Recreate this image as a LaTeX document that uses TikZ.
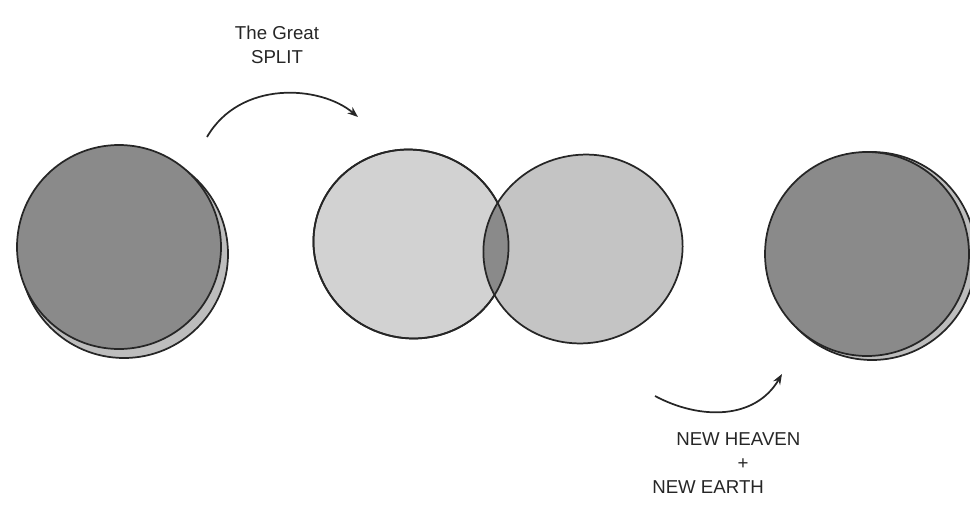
\documentclass[tikz,border=0pt]{standalone}
\usepackage{fontspec}
\setmainfont{Liberation Sans}
\usepackage{xcolor}
\usetikzlibrary{arrows.meta}
\definecolor{darkfill}{HTML}{8A8A8A}
\definecolor{backfill}{HTML}{BDBDBD}
\definecolor{leftfill}{HTML}{D2D2D2}
\definecolor{rightfill}{HTML}{C4C4C4}
\definecolor{inkline}{HTML}{262626}

\begin{document}
\begin{tikzpicture}[>={Stealth[length=8pt,width=6pt]},x=0.75pt,y=-0.75pt,
  ink/.style={draw=inkline,line width=1.3pt},
  hand/.style={font=\fontsize{14}{18}\selectfont,text=inkline,align=center,inner sep=0pt}]
\useasboundingbox (0,0) rectangle (970,514);
% left world
\draw[ink,fill=backfill] (124,254) circle (104);
\draw[ink,fill=darkfill] (119,247) circle (102);
% the two halves
\draw[ink,fill=leftfill] (411,244) ellipse [x radius=98, y radius=94, rotate=-20];
\begin{scope}
\clip (411,244) ellipse [x radius=98, y radius=94, rotate=-20];
\fill[darkfill] (583,249) ellipse [x radius=100, y radius=94, rotate=15];
\end{scope}
\begin{scope}[even odd rule]
\clip (411,244) ellipse [x radius=98, y radius=94, rotate=-20] (0,0) rectangle (970,514);
\fill[rightfill] (583,249) ellipse [x radius=100, y radius=94, rotate=15];
\end{scope}
\draw[ink] (411,244) ellipse [x radius=98, y radius=94, rotate=-20];
\draw[ink] (583,249) ellipse [x radius=100, y radius=94, rotate=15];
% right world
\draw[ink,fill=backfill] (872,256) circle (104);
\draw[ink,fill=darkfill] (867,254) circle (102);
% labels
\node[hand] (split) at (277,45) {The Great\\SPLIT};
\node[hand,align=left,anchor=north west] (heaven) at (652,432) {\hspace{18pt}NEW HEAVEN\\\hspace{64pt}+\\NEW EARTH};
% arrows
\coordinate (s1) at (207,137);
\coordinate (s2) at (358,117);
\coordinate (h1) at (655,396);
\coordinate (h2) at (782,374);
\draw[->,ink] (s1) .. controls (240,80) and (320,85) .. (s2);
\draw[->,ink] (h1) .. controls (700,420) and (755,420) .. (h2);
\end{tikzpicture}
\end{document}
